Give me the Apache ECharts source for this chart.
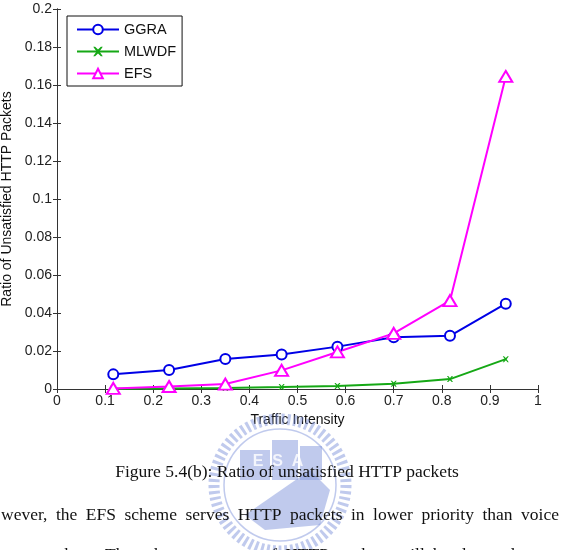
<!DOCTYPE html>
<html>
<head>
<meta charset="utf-8">
<style>
  html, body { margin: 0; padding: 0; background: #fff; }
  #chart { width: 561px; height: 550px; }
</style>
<script src="https://cdn.jsdelivr.net/npm/echarts@6/dist/echarts.min.js"></script>
</head>
<body>
<div id="chart"></div>
<script>
// values
const trafficIntensity = [0.117, 0.233, 0.35, 0.467, 0.583, 0.7, 0.817, 0.933];
const ggra  = [0.0077, 0.0100, 0.0158, 0.0182, 0.0223, 0.0272, 0.0280, 0.0449];
const mlwdf = [0.0001, 0.0003, 0.0005, 0.0010, 0.0016, 0.0028, 0.0052, 0.0157];
const efs   = [0.0003, 0.0013, 0.0026, 0.0098, 0.0195, 0.0293, 0.0465, 0.1645];

const seriesNames = ['GGRA', 'MLWDF', 'EFS'];
const caption = 'Figure 5.4(b): Ratio of unsatisfied HTTP packets';
const bodyLine = 'wever, the EFS scheme serves HTTP packets in lower priority than voice';
const cutLine = 'packets. Then the percentage of HTTP packets will be dropped more';

function pairs(ys) {
  return ys.map((y, i) => [trafficIntensity[i], y]);
}

// justify a line of words across the page, like the thesis text
function justify(text, font, left, right, y) {
  const ctx = document.createElement('canvas').getContext('2d');
  ctx.font = font;
  const words = text.split(' ');
  const widths = words.map(w => ctx.measureText(w).width);
  const total = widths.reduce((a, b) => a + b, 0);
  const gap = (right - left - total) / (words.length - 1);
  let x = left;
  return words.map((w, i) => {
    const el = {
      type: 'text', x: x, y: y, z: 20,
      style: { text: w, font: font, fill: '#111', textVerticalAlign: 'middle' }
    };
    x += widths[i] + gap;
    return el;
  });
}

const wmColor = 'rgba(130,150,220,0.5)';
const watermark = [
  { type: 'circle', shape: { cx: 280, cy: 485, r: 66 }, z: 1,
    style: { fill: 'none', stroke: wmColor, lineWidth: 11, lineDash: [3, 3] } },
  { type: 'circle', shape: { cx: 280, cy: 485, r: 56 }, z: 1,
    style: { fill: 'none', stroke: wmColor, lineWidth: 1.5 } },
  { type: 'rect', shape: { x: 240, y: 450, width: 30, height: 30 }, z: 1, style: { fill: wmColor } },
  { type: 'rect', shape: { x: 272, y: 440, width: 26, height: 40 }, z: 1, style: { fill: wmColor } },
  { type: 'rect', shape: { x: 300, y: 446, width: 22, height: 34 }, z: 1, style: { fill: wmColor } },
  { type: 'polygon', shape: { points: [[245, 515], [310, 470], [330, 490], [320, 525], [265, 530]] }, z: 1,
    style: { fill: wmColor } },
  { type: 'text', x: 278, y: 462, z: 2,
    style: { text: 'E  S  A', font: 'bold 16px Liberation Sans', fill: 'rgba(255,255,255,0.8)',
             textAlign: 'center', textVerticalAlign: 'middle' } }
];

const texts = [
  { type: 'text', x: 287, y: 472, z: 20,
    style: { text: caption, font: '17.5px "Liberation Serif"', fill: '#111',
             textAlign: 'center', textVerticalAlign: 'middle' } }
].concat(justify(bodyLine, '17.5px "Liberation Serif"', 1, 559, 515))
 .concat(justify(cutLine, '17.5px "Liberation Serif"', 40, 559, 555));

const chart = echarts.init(document.getElementById('chart'));

const axisLine = { show: true, lineStyle: { color: '#333', width: 1 } };
const tickIn = { show: true, inside: true, length: 4, lineStyle: { color: '#333' } };
const labelStyle = { color: '#222', fontSize: 14, fontFamily: 'Liberation Sans' };

chart.setOption({
  animation: false,
  backgroundColor: '#fff',
  grid: { left: 57, right: 23, top: 9, bottom: 161, outerBoundsMode: 'none', containLabel: false },
  legend: {
    orient: 'vertical',
    left: 67, top: 16,
    data: seriesNames,
    itemWidth: 42, itemHeight: 12, itemGap: 7,
    padding: [6, 6, 5, 9],
    borderColor: '#111', borderWidth: 1,
    backgroundColor: '#fff',
    textStyle: { color: '#111', fontSize: 14.5, fontFamily: 'Liberation Sans' }
  },
  xAxis: [
    {
      type: 'value', min: 0, max: 1, interval: 0.1,
      name: 'Traffic Intensity', nameLocation: 'middle', nameGap: 22,
      nameTextStyle: { color: '#111', fontSize: 14, fontFamily: 'Liberation Sans' },
      axisLine: axisLine, axisTick: tickIn,
      axisLabel: Object.assign({ margin: 5 }, labelStyle),
      splitLine: { show: false }
    },
    {
      type: 'value', min: 0, max: 1, interval: 0.1, position: 'top',
      axisLine: axisLine, axisTick: tickIn, axisLabel: { show: false }, splitLine: { show: false }
    }
  ],
  yAxis: [
    {
      type: 'value', min: 0, max: 0.2, interval: 0.02,
      name: 'Ratio of Unsatisfied HTTP Packets', nameLocation: 'middle', nameGap: 37,
      nameTextStyle: { color: '#111', fontSize: 14, fontFamily: 'Liberation Sans' },
      axisLine: axisLine, axisTick: tickIn,
      axisLabel: Object.assign({ margin: 5 }, labelStyle),
      splitLine: { show: false }
    },
    {
      type: 'value', min: 0, max: 0.2, interval: 0.02, position: 'right',
      axisLine: axisLine, axisTick: tickIn, axisLabel: { show: false }, splitLine: { show: false }
    }
  ],
  series: [
    {
      name: 'GGRA', type: 'line', data: pairs(ggra),
      symbol: 'emptyCircle', symbolSize: 10,
      lineStyle: { color: '#0000e6', width: 2 },
      itemStyle: { color: '#0000e6', borderWidth: 2 }
    },
    {
      name: 'MLWDF', type: 'line', data: pairs(mlwdf),
      symbol: 'path://M0,0L2,0L5,3L8,0L10,0L6.5,5L10,10L8,10L5,7L2,10L0,10L3.5,5Z', symbolSize: 6,
      lineStyle: { color: '#15a815', width: 2 },
      itemStyle: { color: '#15a815' }
    },
    {
      name: 'EFS', type: 'line', data: pairs(efs),
      symbol: 'emptyTriangle', symbolSize: [13, 11],
      lineStyle: { color: '#ff00ff', width: 2 },
      itemStyle: { color: '#ff00ff', borderWidth: 2 }
    }
  ],
  graphic: watermark.concat(texts)
});
</script>
</body>
</html>
